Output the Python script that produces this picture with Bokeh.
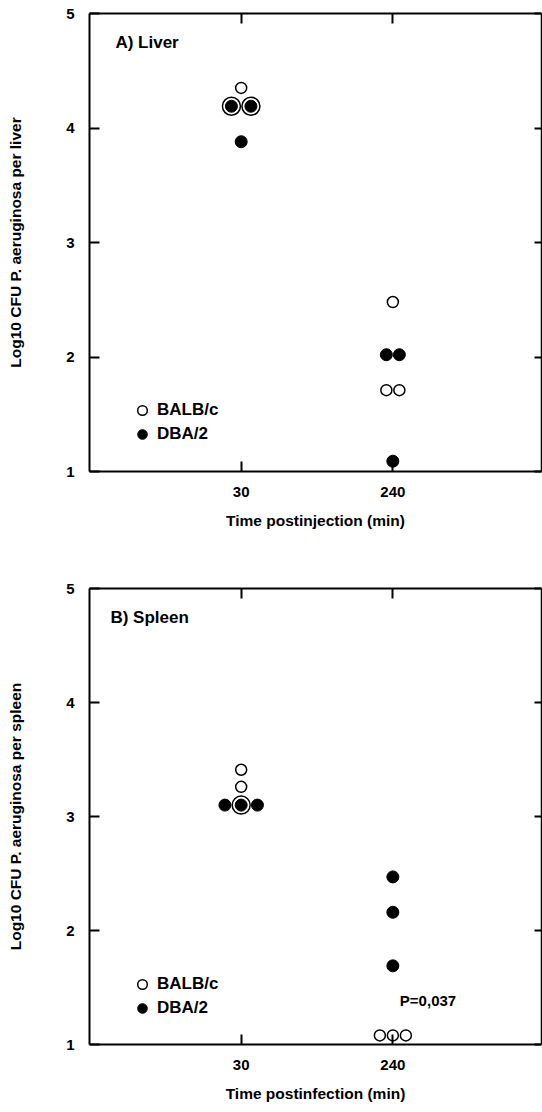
import numpy as np
from bokeh.plotting import figure
from bokeh.models import (Range1d, LinearAxis, FixedTicker, Label, Legend,
                          LegendItem, ColumnDataSource)
from bokeh.layouts import column
from bokeh.embed import file_html
from bokeh.resources import INLINE

# ---------------- data ----------------
time_labels = ["30", "240"]
y_ticks = [1, 2, 3, 4, 5]

liver_balbc_30 = [4.35, 4.19, 4.19]
liver_dba2_30 = [4.19, 4.19, 3.88]
liver_balbc_240 = [2.48, 1.71, 1.71]
liver_dba2_240 = [2.02, 2.02, 1.09]

spleen_balbc_30 = [3.41, 3.26, 3.10]
spleen_dba2_30 = [3.10, 3.10, 3.10]
spleen_balbc_240 = [1.08, 1.08, 1.08]
spleen_dba2_240 = [2.47, 2.16, 1.69]

p_value_text = "P=0,037"

# ---------------- layout constants ----------------
FONT = "Liberation Sans"
FIG_W = 542
BORDER_L = 89
BORDER_R = 1
X_MIN, X_MAX = 0.0, 2.98
FRAME_W = FIG_W - BORDER_L - BORDER_R
PX_PER_X = FRAME_W / (X_MAX - X_MIN)

OPEN_SIZE = 11
FILLED_SIZE = 12
RING_SIZE = 18
SLOT_SINGLE = 12.5
SLOT_RING = 19.0
GAP = 0.5


def arrange(balb, dba, xc):
    """Place points of one time group; identical values are spread sideways,
    a BALB/c value equal to a DBA/2 value is drawn as a ring around it."""
    d_rem = list(dba)
    slots = []
    for v in balb:
        m = next((w for w in d_rem if abs(w - v) < 0.015), None)
        if m is not None:
            d_rem.remove(m)
            slots.append((v, "BD"))
        else:
            slots.append((v, "B"))
    for w in d_rem:
        slots.append((w, "D"))
    groups = {}
    for y, k in slots:
        groups.setdefault(round(y, 2), []).append((y, k))
    bx, by, bs, dx, dy = [], [], [], [], []
    for key, items in groups.items():
        rings = [s for s in items if s[1] == "BD"]
        singles = [s for s in items if s[1] != "BD"]
        order = list(rings)
        for i, s in enumerate(singles):
            if i % 2 == 0:
                order.append(s)
            else:
                order.insert(0, s)
        widths = [SLOT_RING if k == "BD" else SLOT_SINGLE for _, k in order]
        pos = [0.0]
        for i in range(1, len(order)):
            pos.append(pos[-1] + (widths[i - 1] + widths[i]) / 2 + GAP)
        mid = (pos[0] + pos[-1]) / 2
        for (y, k), px in zip(order, pos):
            x = xc + (px - mid) / PX_PER_X
            if k in ("B", "BD"):
                bx.append(x); by.append(y)
                bs.append(RING_SIZE if k == "BD" else OPEN_SIZE)
            if k in ("D", "BD"):
                dx.append(x); dy.append(y)
    return bx, by, bs, dx, dy


def make_panel(height, top, bottom, balb_sets, dba_sets, title, title_x,
               ylabel, xlabel, legend_vy, p_text=None):
    p = figure(width=FIG_W, height=height, x_range=Range1d(X_MIN, X_MAX),
               y_range=Range1d(1, 5), output_backend="svg",
               toolbar_location=None, min_border_left=BORDER_L,
               min_border_right=BORDER_R, min_border_top=top,
               min_border_bottom=bottom, outline_line_color=None,
               background_fill_color="white", border_fill_color="white")
    p.grid.visible = False

    # data
    BX, BY, BS, DX, DY = [], [], [], [], []
    for i, (b, d) in enumerate(zip(balb_sets, dba_sets)):
        bx, by, bs, dx, dy = arrange(b, d, i + 1)
        BX += bx; BY += by; BS += bs; DX += dx; DY += dy
    bsrc = ColumnDataSource(dict(x=BX, y=BY, size=BS))
    dsrc = ColumnDataSource(dict(x=DX, y=DY))
    rb = p.scatter(x="x", y="y", size="size", source=bsrc, marker="circle",
                   fill_color="white", line_color="black", line_width=1.5)
    rd = p.scatter(x="x", y="y", size=FILLED_SIZE, source=dsrc,
                   marker="circle", fill_color="black", line_color="black",
                   line_width=1)

    xt = FixedTicker(ticks=[1, 2])
    yt = FixedTicker(ticks=y_ticks)
    overrides = {i + 1: t for i, t in enumerate(time_labels)}

    for ax in [p.xaxis[0], p.yaxis[0]]:
        ax.axis_line_width = 2
        ax.major_tick_line_width = 2
        ax.major_tick_in = 10
        ax.major_tick_out = 0
        ax.minor_tick_line_color = None
        ax.major_label_text_font = FONT
        ax.major_label_text_font_style = "bold"
        ax.major_label_text_font_size = "15px"
        ax.major_label_text_color = "black"
        ax.axis_label_text_font = FONT
        ax.axis_label_text_font_style = "bold"
        ax.axis_label_text_font_size = "15.5px"
        ax.axis_label_text_color = "black"

    p.xaxis[0].ticker = xt
    p.xaxis[0].major_label_overrides = overrides
    p.xaxis[0].major_label_standoff = 15
    p.xaxis[0].axis_label = xlabel
    p.xaxis[0].axis_label_standoff = 12

    p.yaxis[0].ticker = yt
    p.yaxis[0].major_label_standoff = 15
    p.yaxis[0].axis_label = ylabel
    p.yaxis[0].axis_label_standoff = 39

    for side, tk in (("above", xt), ("right", yt)):
        ax = LinearAxis(ticker=tk)
        ax.axis_line_width = 2 if side == "above" else 1.5
        ax.major_tick_line_width = 2
        ax.major_tick_in = 10 if side == "above" else 7
        ax.major_tick_out = 0
        ax.minor_tick_line_color = None
        ax.major_label_overrides = {t: "" for t in tk.ticks}
        ax.major_label_text_font_size = "0px"
        ax.major_label_standoff = 0
        p.add_layout(ax, side)

    p.add_layout(Label(x=title_x, y=4.747, text=title, text_font=FONT,
                       text_font_style="bold", text_font_size="17px",
                       text_baseline="middle", text_color="black"))
    if p_text:
        p.add_layout(Label(x=2, y=1.383, x_offset=7, text=p_text,
                           text_font=FONT, text_font_style="bold",
                           text_font_size="15px", text_baseline="middle",
                           text_color="black"))

    legend = Legend(items=[LegendItem(label="BALB/c", renderers=[rb]),
                           LegendItem(label="DBA/2", renderers=[rd])],
                    location=(39, legend_vy), glyph_width=28, glyph_height=24,
                    label_height=24, spacing=0, label_standoff=1,
                    padding=0, margin=0, border_line_color=None,
                    background_fill_alpha=0,
                    label_text_font=FONT, label_text_font_style="bold",
                    label_text_font_size="17px", label_text_color="black")
    p.add_layout(legend, "center")
    return p


p1 = make_panel(560, 13, 89,
                [liver_balbc_30, liver_balbc_240],
                [liver_dba2_30, liver_dba2_240],
                "A) Liver", 0.171,
                "Log10 CFU P. aeruginosa per liver",
                "Time postinjection (min)", 25)

p2 = make_panel(544, 28, 57,
                [spleen_balbc_30, spleen_balbc_240],
                [spleen_dba2_30, spleen_dba2_240],
                "B) Spleen", 0.138,
                "Log10 CFU P. aeruginosa per spleen",
                "Time postinfection (min)", 24, p_text=p_value_text)

layout = column(p1, p2, spacing=0)
open("out.html", "w").write(file_html(layout, INLINE))
